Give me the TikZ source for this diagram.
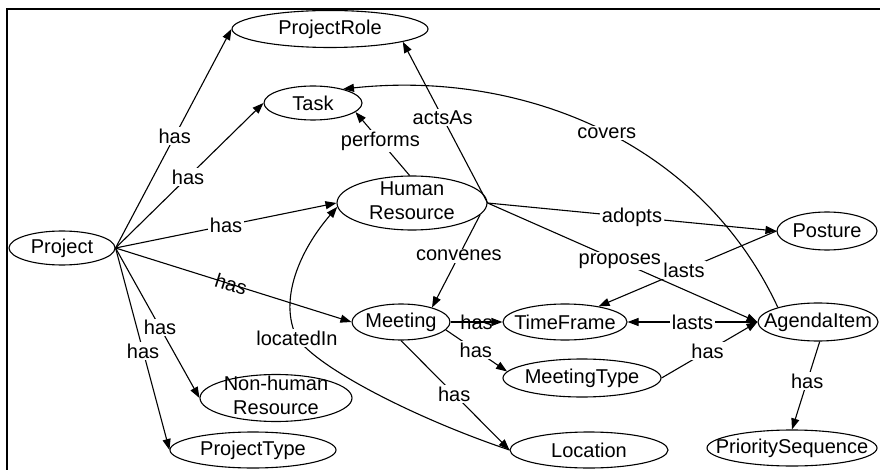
\documentclass[tikz,border=0pt]{standalone}
\usepackage{fontspec}
\setmainfont{Liberation Sans}
\usetikzlibrary{shapes.geometric,arrows.meta}
\newcommand\mkzw[1]{\makebox[0pt]{#1}}
\newcommand\mktwo[2]{\makebox[0pt]{\begin{tabular}{@{}c@{}}#1\\#2\end{tabular}}}
\begin{document}
\begin{tikzpicture}[x=1pt,y=-1pt,
  every node/.style={font=\fontsize{20}{24}\selectfont},
  ent/.style={draw, ellipse, inner sep=0pt, line width=1.1pt},
  two/.style={inner ysep=-14pt},
  arr/.style={line width=1.1pt, -{Triangle[length=11pt,width=8pt]}},
  lbl/.style={fill=white, inner sep=1.5pt},
  bare/.style={inner sep=0pt}]
\useasboundingbox (0,0) rectangle (880,470);
% frame
\coordinate (fTR) at (881,9);
\coordinate (fTL) at (7,9);
\coordinate (fBL) at (7,471);
\draw[line width=2pt] (fTR) -- (fTL) -- (fBL);

% entities
\node[ent, minimum width=106pt, minimum height=34pt] (Project) at (62,248) {\mkzw{Project}};
\node[ent, minimum width=196pt, minimum height=37pt] (ProjectRole) at (330,29) {\mkzw{ProjectRole}};
\node[ent, minimum width=98pt, minimum height=34pt] (Task) at (313,103) {\mkzw{Task}};
\node[ent, two, minimum width=150pt, minimum height=54pt] (HR) at (412,203) {\mktwo{Human}{Resource}};
\node[ent, minimum width=100pt, minimum height=38pt] (Posture) at (827,231) {\mkzw{Posture}};
\node[ent, minimum width=98pt, minimum height=36pt] (Meeting) at (401,322) {\mkzw{Meeting}};
\node[ent, minimum width=124pt, minimum height=36pt] (TimeFrame) at (565,322) {\mkzw{TimeFrame}};
\node[ent, minimum width=120pt, minimum height=38pt] (AgendaItem) at (818,322) {\mkzw{AgendaItem}};
\node[ent, minimum width=158pt, minimum height=38pt] (MeetingType) at (582,378) {\mkzw{MeetingType}};
\node[ent, two, minimum width=152pt, minimum height=47pt] (NHR) at (276,398) {\mktwo{Non-human}{Resource}};
\node[ent, minimum width=166pt, minimum height=36pt] (ProjectType) at (253,450) {\mkzw{ProjectType}};
\node[ent, minimum width=158pt, minimum height=36pt] (Location) at (589,450) {\mkzw{Location}};
\node[ent, minimum width=170pt, minimum height=36pt] (PrioritySequence) at (792,448) {\mkzw{PrioritySequence}};

% Project edges
\draw[arr] (Project.east) -- node[lbl,pos=0.51]{has} (ProjectRole.west);
\draw[arr] (Project.east) -- node[lbl,pos=0.49]{has} (Task.west);
\draw[arr] (Project.east) -- node[lbl,pos=0.5]{has} (HR.west);
\draw[arr] (Project.east) -- node[bare,pos=0.49,sloped]{has} (Meeting.west);
\draw[arr] (Project.east) -- node[lbl,pos=0.53]{has} (NHR.west);
\draw[arr] (Project.east) -- node[lbl,pos=0.51]{has} (ProjectType.west);

% Human Resource edges
\draw[arr] (HR.95) -- node[lbl,pos=0.54]{performs} (Task.-12);
\draw[arr] (HR.east) -- node[lbl,pos=0.53]{actsAs} (ProjectRole.-10);
\draw[arr] (HR.-10) -- node[lbl,pos=0.44]{convenes} (Meeting.25);
\draw[arr] (HR.east) -- node[lbl,pos=0.5]{adopts} (Posture.west);
\draw[arr] (HR.east) -- node[lbl,pos=0.49]{proposes} (AgendaItem.west);

% AgendaItem covers Task
\draw[arr] (AgendaItem.160) .. controls (700,140) and (520,70) .. node[lbl,pos=0.48]{covers} (Task.25);

% lasts
\draw[arr] (Posture.west) -- node[lbl,pos=0.52]{lasts} (TimeFrame.25);
\draw[arr] (AgendaItem.west) -- node[lbl,pos=0.5]{lasts} (TimeFrame.east);

% Meeting edges
\draw[arr] (Meeting.east) -- node[bare,pos=0.5]{has} (TimeFrame.west);
\draw[arr] (Meeting.-10) -- node[lbl,pos=0.49]{has} (MeetingType.175);
\draw[arr] (Meeting.south) -- node[lbl,pos=0.49]{has} (Location.west);
\draw[arr] (MeetingType.east) -- node[lbl,pos=0.48]{has} (AgendaItem.west);
\draw[arr] (AgendaItem.-85) -- node[lbl,pos=0.45]{has} (PrioritySequence.north);

% locatedIn
\draw[arr] (Location.west) .. controls (420,420) and (320,370) .. (297,338)
  node[lbl]{locatedIn}
  .. controls (278,300) and (300,250) .. (HR.183);
\end{tikzpicture}
\end{document}
